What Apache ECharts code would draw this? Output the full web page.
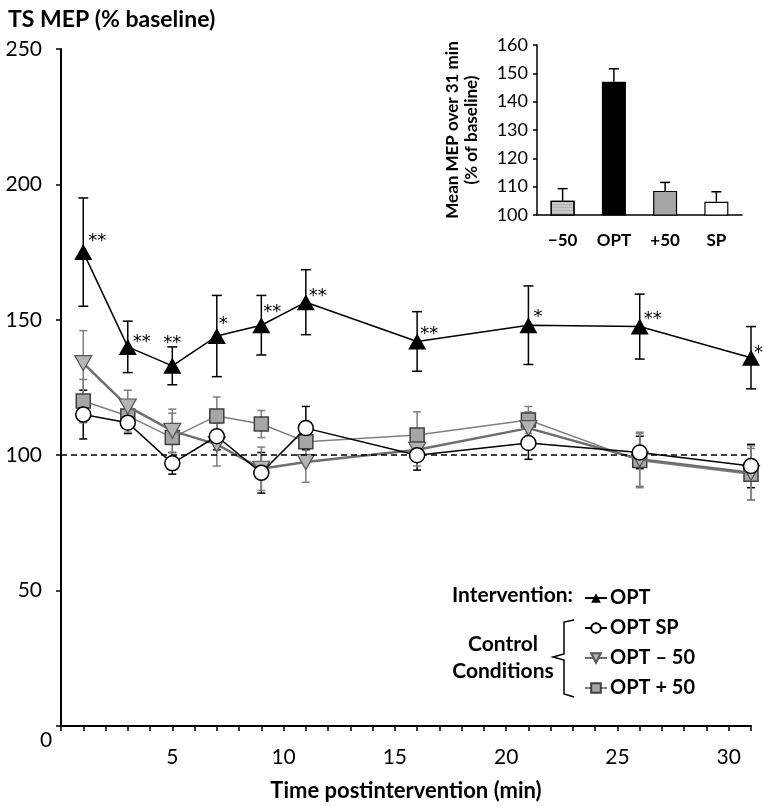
<!DOCTYPE html>
<html lang="en">
<head>
    <meta charset="UTF-8">
    <title>TS MEP over time</title>
    <style>
        html, body {
            margin: 0;
            padding: 0;
            background: #ffffff;
        }
        #main {
            width: 764px;
            height: 807px;
        }
    </style>
    <script type="text/javascript" src="https://cdn.jsdelivr.net/npm/echarts@6/dist/echarts.min.js"></script>
</head>
<body>
<div id="main"></div>
<script type="text/javascript">
    // time points (min after intervention)
    var times = [1, 3, 5, 7, 9, 11, 16, 21, 26, 31];
    var optMean = [175, 140, 133, 144, 148, 156.5, 142, 148, 147.5, 136];
    var optErr = [20, 9.5, 7, 15, 11, 12, 11, 14.5, 12, 11.5];
    var optStars = ['**', '**', '**', '*', '**', '**', '**', '*', '**', '*'];
    var spMean = [115, 112, 97, 107, 93.5, 110, 100, 104.5, 101, 96];
    var spErr = [9, 4, 4, 5, 7.5, 8, 5.5, 6, 6, 8];
    var m50Mean = [134, 118, 109, 104, 95, 97.5, 102, 110, 98.5, 93.5];
    var m50Err = [12, 6, 8, 8, 8, 7.5, 6, 6, 10, 10];
    var p50Mean = [120, 114.5, 106.5, 114.5, 111.5, 105, 107.5, 113, 98, 93];
    var p50Err = [8, 6, 9, 7, 5, 5, 8.5, 5, 10, 9.5];

    // inset: mean over 31 min
    var insetCats = ['\u221250', 'OPT', '+50', 'SP'];
    var insetMean = [105, 147, 108.5, 104.7];
    var insetErr = [4.3, 4.6, 3, 3.5];

    var font = 'Lato, "Open Sans", sans-serif';
    var downTri = 'path://M0,0 L10,0 L5,9 Z';

    function pairs(ys) {
        var out = [];
        for (var i = 0; i < times.length; i++) out.push([times[i], ys[i]]);
        return out;
    }
    function errData(ys, es) {
        var out = [];
        for (var i = 0; i < times.length; i++) out.push([times[i], ys[i] - es[i], ys[i] + es[i]]);
        return out;
    }
    function errRender(color, cap, upOnly) {
        return function (params, api) {
            var x = api.value(0);
            var top = api.coord([x, api.value(2)]);
            var bot = api.coord([x, api.value(1)]);
            var st = {stroke: color, lineWidth: 1.5};
            var kids = [
                {type: 'line', shape: {x1: top[0], y1: top[1], x2: bot[0], y2: bot[1]}, style: st},
                {type: 'line', shape: {x1: top[0] - cap, y1: top[1], x2: top[0] + cap, y2: top[1]}, style: st}
            ];
            if (!upOnly) {
                kids.push({type: 'line', shape: {x1: bot[0] - cap, y1: bot[1], x2: bot[0] + cap, y2: bot[1]}, style: st});
            }
            return {type: 'group', children: kids};
        };
    }

    // where the significance stars sit, relative to the marker box
    var starPos = [[14, -12], [14, -6], [0, -24], [11, -13], [11, -14], [12, -7], [12, -8], [14, -9], [13, -8], [12, -5]];
    var optData = [];
    for (var i = 0; i < times.length; i++) {
        optData.push({
            value: [times[i], optMean[i]],
            label: {
                show: true,
                formatter: optStars[i],
                position: starPos[i],
                fontFamily: '"DejaVu Sans", sans-serif',
                fontSize: 18,
                color: '#000'
            }
        });
    }

    var insetErrData = [];
    for (var j = 0; j < insetCats.length; j++) {
        insetErrData.push([j, insetMean[j], insetMean[j] + insetErr[j]]);
    }

    var chart = echarts.init(document.getElementById('main'));
    var option = {
        animation: false,
        title: {
            text: 'TS MEP (% baseline)',
            left: 3,
            top: 3,
            textStyle: {fontFamily: font, fontWeight: 'bold', fontSize: 23, color: '#000'}
        },
        legend: {
            orient: 'vertical',
            left: 579,
            top: 583,
            itemGap: 10,
            itemWidth: 22,
            itemHeight: 12,
            data: ['OPT', 'OPT SP', 'OPT \u2013 50', 'OPT + 50'],
            textStyle: {fontFamily: font, fontWeight: 'bold', fontSize: 20, color: '#000', padding: [0, 0, 0, -2]}
        },
        grid: [
            {left: 61, right: 13, top: 49, bottom: 81, outerBoundsMode: 'none'},
            {left: 537, top: 45, width: 205, height: 170, outerBoundsMode: 'none'}
        ],
        xAxis: [{
            type: 'value',
            gridIndex: 0,
            min: 0,
            max: 31,
            interval: 1,
            splitLine: {show: false},
            axisLine: {lineStyle: {color: '#000', width: 2}},
            axisTick: {length: 5, lineStyle: {color: '#000', width: 1.5}},
            axisLabel: {
                margin: 21,
                fontFamily: font,
                fontSize: 21,
                color: '#000',
                formatter: function (v) { return (v > 0 && v % 5 === 0) ? String(v) : ''; }
            },
            name: 'Time postintervention (min)',
            nameLocation: 'middle',
            nameGap: 54,
            nameMoveOverlap: false,
            nameTextStyle: {fontFamily: font, fontWeight: 'bold', fontSize: 22, color: '#000'}
        }, {
            type: 'category',
            gridIndex: 1,
            data: insetCats,
            axisLine: {lineStyle: {color: '#000', width: 1.5}},
            axisTick: {length: 5, lineStyle: {color: '#000', width: 1.5}},
            axisLabel: {margin: 17, fontFamily: font, fontWeight: 'bold', fontSize: 17, color: '#000'}
        }],
        yAxis: [{
            type: 'value',
            gridIndex: 0,
            min: 0,
            max: 250,
            interval: 50,
            splitLine: {show: false},
            axisLine: {show: true, lineStyle: {color: '#000', width: 2}},
            axisTick: {show: true, length: 5, lineStyle: {color: '#000', width: 1.5}},
            axisLabel: {
                margin: 19,
                fontFamily: font,
                fontSize: 21,
                color: '#000',
                formatter: function (v) { return v === 0 ? '' : String(v); }
            }
        }, {
            type: 'value',
            gridIndex: 1,
            min: 100,
            max: 160,
            interval: 10,
            splitLine: {show: false},
            axisLine: {show: true, lineStyle: {color: '#000', width: 1.5}},
            axisTick: {show: true, length: 4, lineStyle: {color: '#000', width: 1.5}},
            axisLabel: {margin: 9, fontFamily: font, fontSize: 18, color: '#000'},
            name: 'Mean MEP over 31 min\n(% of baseline)',
            nameLocation: 'middle',
            nameGap: 56,
            nameMoveOverlap: false,
            nameTextStyle: {fontFamily: font, fontWeight: 'bold', fontSize: 17, lineHeight: 19, color: '#000'}
        }],
        graphic: [
            {type: 'text', x: 40, y: 730,
                style: {text: '0', fontFamily: font, fontSize: 21, fill: '#000'}},
            {type: 'text', x: 573, y: 595,
                style: {text: 'Intervention:', align: 'right', verticalAlign: 'middle', fontFamily: font,
                    fontWeight: 'bold', fontSize: 21, fill: '#000'}},
            {type: 'text', x: 503, y: 658,
                style: {text: 'Control\nConditions', align: 'center', verticalAlign: 'middle', fontFamily: font,
                    fontWeight: 'bold', fontSize: 21, lineHeight: 27, fill: '#000'}},
            {type: 'polyline', z: 10,
                shape: {points: [[574, 620], [564, 622], [564, 654], [553, 657], [564, 660], [564, 694], [574, 697]]},
                style: {stroke: '#000', lineWidth: 1.5, fill: null}}
        ],
        series: [
            {
                name: 'OPT err', type: 'custom', xAxisIndex: 0, yAxisIndex: 0, z: 1,
                renderItem: errRender('#000', 5, false), data: errData(optMean, optErr)
            },
            {
                name: 'SP err', type: 'custom', xAxisIndex: 0, yAxisIndex: 0, z: 1,
                renderItem: errRender('#000', 4, false), data: errData(spMean, spErr)
            },
            {
                name: 'M50 err', type: 'custom', xAxisIndex: 0, yAxisIndex: 0, z: 1,
                renderItem: errRender('#7f7f7f', 4, false), data: errData(m50Mean, m50Err)
            },
            {
                name: 'P50 err', type: 'custom', xAxisIndex: 0, yAxisIndex: 0, z: 1,
                renderItem: errRender('#7f7f7f', 4, false), data: errData(p50Mean, p50Err)
            },
            {
                name: 'OPT + 50', type: 'line', xAxisIndex: 0, yAxisIndex: 0, z: 3,
                data: pairs(p50Mean),
                symbol: 'rect', symbolSize: 14,
                lineStyle: {color: '#808080', width: 1.5},
                itemStyle: {color: '#a6a6a6', borderColor: '#404040', borderWidth: 1.5}
            },
            {
                name: 'OPT \u2013 50', type: 'line', xAxisIndex: 0, yAxisIndex: 0, z: 4,
                data: pairs(m50Mean),
                symbol: downTri, symbolSize: [17, 15],
                lineStyle: {color: '#6e6e6e', width: 2.5},
                itemStyle: {color: '#b4b4b4', borderColor: '#555', borderWidth: 1.2}
            },
            {
                name: 'OPT SP', type: 'line', xAxisIndex: 0, yAxisIndex: 0, z: 5,
                data: pairs(spMean),
                symbol: 'circle', symbolSize: 15,
                lineStyle: {color: '#000', width: 1.5},
                itemStyle: {color: '#fff', borderColor: '#000', borderWidth: 1.5}
            },
            {
                name: 'OPT', type: 'line', xAxisIndex: 0, yAxisIndex: 0, z: 6,
                data: optData,
                symbol: 'triangle', symbolSize: [18, 16],
                lineStyle: {color: '#000', width: 1.5},
                itemStyle: {color: '#000'},
                markLine: {
                    silent: true,
                    symbol: 'none',
                    label: {show: false},
                    lineStyle: {color: '#000', type: [6, 4], width: 1.5},
                    data: [{yAxis: 100}]
                }
            },
            {
                name: 'inset', type: 'bar', xAxisIndex: 1, yAxisIndex: 1, z: 2,
                barWidth: 24,
                data: [
                    {value: insetMean[0], itemStyle: {color: '#c8c8c8',
                        decal: {symbol: 'rect', symbolSize: 0.5, dashArrayX: [1, 0], dashArrayY: [1, 2], color: 'rgba(60,60,60,0.6)'}}},
                    {value: insetMean[1], itemStyle: {color: '#000'}},
                    {value: insetMean[2], itemStyle: {color: '#a6a6a6'}},
                    {value: insetMean[3], itemStyle: {color: '#fff'}}
                ],
                itemStyle: {borderColor: '#000', borderWidth: 1.2}
            },
            {
                name: 'inset err', type: 'custom', xAxisIndex: 1, yAxisIndex: 1, z: 1,
                renderItem: errRender('#000', 5, true), data: insetErrData
            }
        ]
    };
    chart.setOption(option);
</script>
</body>
</html>
